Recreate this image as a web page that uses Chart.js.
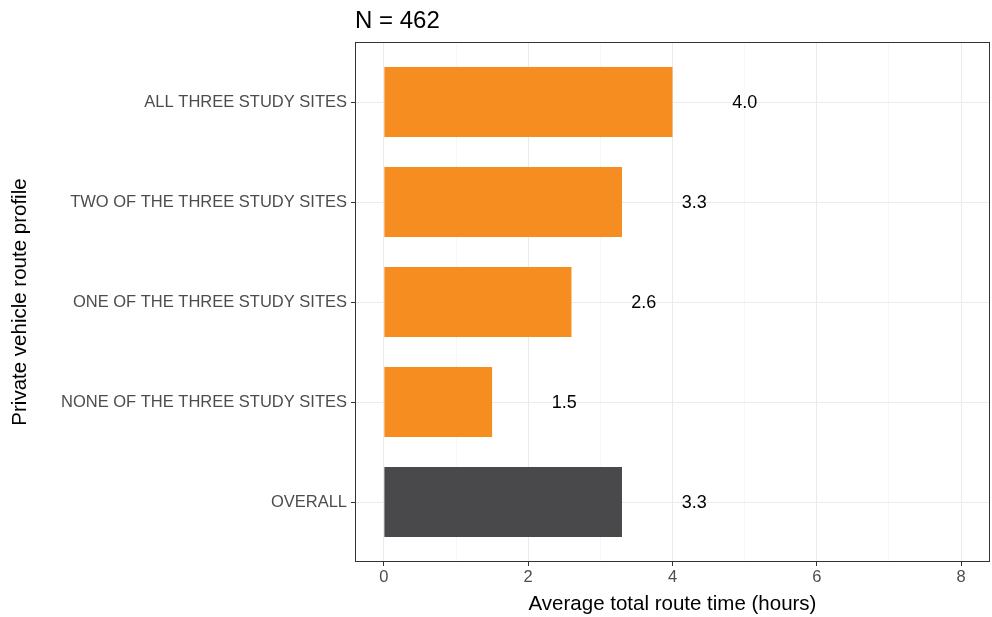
<!DOCTYPE html>
<html>
<head>
<meta charset="utf-8">
<script src="https://cdn.jsdelivr.net/npm/chart.js@4"></script>
<style>
  html, body { margin: 0; padding: 0; background: #fff; }
  #wrap { width: 992px; height: 617px; }
</style>
</head>
<body>
<div id="wrap"><canvas id="chartRoute"></canvas></div>
<script>
// data
const profiles = [
    "ALL THREE STUDY SITES",
    "TWO OF THE THREE STUDY SITES",
    "ONE OF THE THREE STUDY SITES",
    "NONE OF THE THREE STUDY SITES",
    "OVERALL"
];
const routeHours = [4.0, 3.3, 2.6, 1.5, 3.3];
const barColors = ['#F68D21', '#F68D21', '#F68D21', '#F68D21', '#49494B'];
const xTicks = [0, 2, 4, 6, 8];
const titleText = "N = 462";

const FONT = "'Liberation Sans', Arial, sans-serif";

// panel border, title and value labels
const decorPlugin = {
    id: 'decor',
    afterDraw(chart) {
        const ctx = chart.ctx;
        const a = chart.chartArea;
        const xs = chart.scales.x;
        const ys = chart.scales.y;
        ctx.save();
        ctx.strokeStyle = '#333333';
        ctx.lineWidth = 1;
        ctx.strokeRect(a.left + 0.5, a.top + 0.5, a.right - a.left - 1, a.bottom - a.top - 1);

        ctx.fillStyle = '#000';
        ctx.font = "24px " + FONT;
        ctx.textAlign = 'left';
        ctx.textBaseline = 'alphabetic';
        ctx.fillText(titleText, a.left, 28);

        ctx.font = "18px " + FONT;
        ctx.textAlign = 'center';
        ctx.textBaseline = 'middle';
        routeHours.forEach((v, i) => {
            ctx.fillText(v.toFixed(1), xs.getPixelForValue(v + 1), ys.getPixelForValue(i + 1) + 1);
        });
        ctx.restore();
    }
};

new Chart(document.getElementById("chartRoute"), {
    type: 'bar',
    data: {
        datasets: [{
            data: routeHours.map((v, i) => ({ x: v, y: i + 1 })),
            backgroundColor: barColors,
            barPercentage: 0.7,
            categoryPercentage: 1.0
        }]
    },
    options: {
        indexAxis: 'y',
        responsive: true,
        maintainAspectRatio: false,
        animation: false,
        layout: { padding: { top: 42, right: 2, left: 0, bottom: 0 } },
        plugins: {
            legend: { display: false },
            tooltip: { enabled: false }
        },
        scales: {
            x: {
                type: 'linear',
                min: -0.4,
                max: 8.4,
                afterBuildTicks: s => { s.ticks = [0, 1, 2, 3, 4, 5, 6, 7, 8].map(v => ({ value: v })); },
                afterFit: s => { s.height = 55; },
                border: { display: false },
                grid: {
                    color: c => (c.tick && c.tick.value % 2 === 0) ? '#EBEBEB' : '#F3F3F3',
                    lineWidth: c => (c.tick && c.tick.value % 2 === 0) ? 1 : 0.6,
                    tickColor: c => (c.tick && c.tick.value % 2 === 0) ? '#333333' : 'rgba(0,0,0,0)',
                    tickLength: 4
                },
                ticks: {
                    callback: v => xTicks.includes(v) ? String(v) : '',
                    color: '#4D4D4D',
                    font: { family: FONT, size: 16.5 },
                    padding: 2,
                    maxRotation: 0
                },
                title: {
                    display: true,
                    text: 'Average total route time (hours)',
                    color: '#000',
                    font: { family: FONT, size: 20.5 },
                    padding: { top: 0, bottom: 0 }
                }
            },
            y: {
                type: 'linear',
                reverse: true,
                offset: false,
                min: 0.4,
                max: 5.6,
                afterBuildTicks: s => { s.ticks = profiles.map((p, i) => ({ value: i + 1 })); },
                afterFit: s => { s.width = 355; },
                border: { display: false },
                grid: {
                    offset: false,
                    color: '#EBEBEB',
                    lineWidth: 1,
                    tickColor: '#333333',
                    tickLength: 4
                },
                ticks: {
                    callback: v => profiles[v - 1] || '',
                    color: '#4D4D4D',
                    font: { family: FONT, size: 16.5 },
                    padding: 4
                },
                title: {
                    display: true,
                    text: 'Private vehicle route profile',
                    color: '#000',
                    font: { family: FONT, size: 20.5 },
                    padding: { top: 8, bottom: 4 }
                }
            }
        }
    },
    plugins: [decorPlugin]
});
</script>
</body>
</html>
